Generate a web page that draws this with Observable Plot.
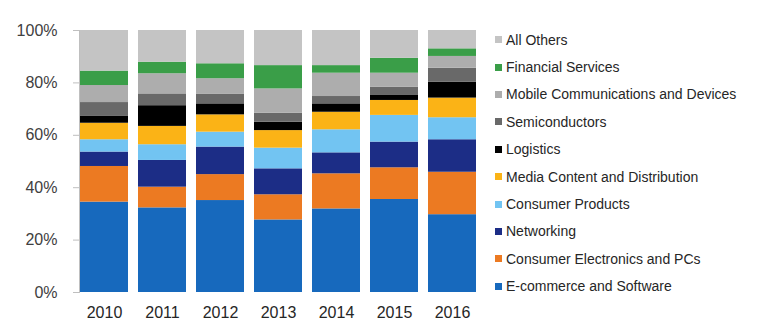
<!DOCTYPE html>
<html><head><meta charset="utf-8">
<script src="https://cdn.jsdelivr.net/npm/d3@7"></script>
<script src="https://cdn.jsdelivr.net/npm/@observablehq/plot@0.6"></script>
<style>
body{margin:0;background:#fff;font-family:"Liberation Sans",Arial,sans-serif;}
#wrap{position:relative;width:760px;height:335px;}
#legend{position:absolute;left:495px;top:26px;}
.item{height:27.4px;display:flex;align-items:center;font-size:14px;color:#262626;white-space:nowrap;}
.sw{width:7px;height:7px;margin-right:4px;}
</style></head><body>
<div id="wrap"></div>
<script>
const years = ["2010","2011","2012","2013","2014","2015","2016"];
const series = ["E-commerce and Software","Consumer Electronics and PCs","Networking","Consumer Products","Media Content and Distribution","Logistics","Semiconductors","Mobile Communications and Devices","Financial Services","All Others"];
const colors = ["#1769bd","#ec7a22","#1c2d86","#72c4f2","#fbb316","#000000","#696969","#adadad","#3a9e48","#c4c4c4"];
const ecommerce   = [34.5, 32.3, 35.1, 27.7, 31.9, 35.5, 29.7];
const consumerEl  = [13.6,  7.9,  9.9,  9.6, 13.4, 12.1, 16.2];
const networking  = [ 5.5, 10.2, 10.5,  9.9,  8.0,  9.8, 12.4];
const consumerPr  = [ 4.7,  6.0,  5.7,  7.9,  8.8, 10.2,  8.4];
const media       = [ 6.3,  7.0,  6.6,  6.7,  6.7,  5.7,  7.5];
const logistics   = [ 2.6,  7.9,  4.2,  3.2,  3.2,  1.9,  6.1];
const semis       = [ 5.3,  4.5,  3.6,  3.4,  2.8,  3.2,  5.3];
const mobile      = [ 6.5,  7.7,  6.0,  9.3,  8.9,  5.3,  4.5];
const financial   = [ 5.5,  4.4,  5.7,  8.9,  2.9,  5.7,  2.9];
const allOthers   = [15.5, 12.1, 12.7, 13.4, 13.4, 10.6,  7.0];
const yTicks = [0, 0.2, 0.4, 0.6, 0.8, 1.0];

const values = [ecommerce, consumerEl, networking, consumerPr, media, logistics, semis, mobile, financial, allOthers];
const data = [];
series.forEach((s, i) => years.forEach((y, j) => data.push({year: y, series: s, value: values[i][j] / 100})));

const chart = Plot.plot({
  width: 760, height: 335,
  marginLeft: 79, marginRight: 280, marginTop: 30, marginBottom: 43,
  style: {fontFamily: '"Liberation Sans", Arial, sans-serif', fontSize: "16px", color: "#404040", background: "#fff"},
  x: {domain: years, paddingInner: 0.17, paddingOuter: 0.0, label: null},
  y: {domain: [0, 1], label: null},
  color: {domain: series, range: colors},
  marks: [
    Plot.gridY(yTicks, {stroke: "#d9d9d9", strokeOpacity: 1, x1: 73, x2: 481}),
    Plot.barY(data, Plot.stackY({order: series}, {x: "year", y: "value", fill: "series", z: "series", inset: 0, dx: -1})),
    Plot.axisY(yTicks, {tickFormat: d3.format(".0%"), tickSize: 6, tickPadding: 16, stroke: "#bfbfbf", fill: "#404040", fontSize: 16}),
    Plot.frame({anchor: "left", stroke: "#bfbfbf"}),
    Plot.ruleY([0], {stroke: "#bfbfbf", x1: 73, x2: 481}),
    Plot.axisX({tickSize: 0, tickPadding: 14, fill: "#262626", fontSize: 16, dx: -1})
  ]
});
document.getElementById("wrap").appendChild(chart);

const leg = document.createElement("div");
leg.id = "legend";
for (let i = series.length - 1; i >= 0; i--) {
  const it = document.createElement("div");
  it.className = "item";
  it.innerHTML = `<span class="sw" style="background:${colors[i]}"></span><span>${series[i]}</span>`;
  leg.appendChild(it);
}
document.getElementById("wrap").appendChild(leg);
</script>
</body></html>
